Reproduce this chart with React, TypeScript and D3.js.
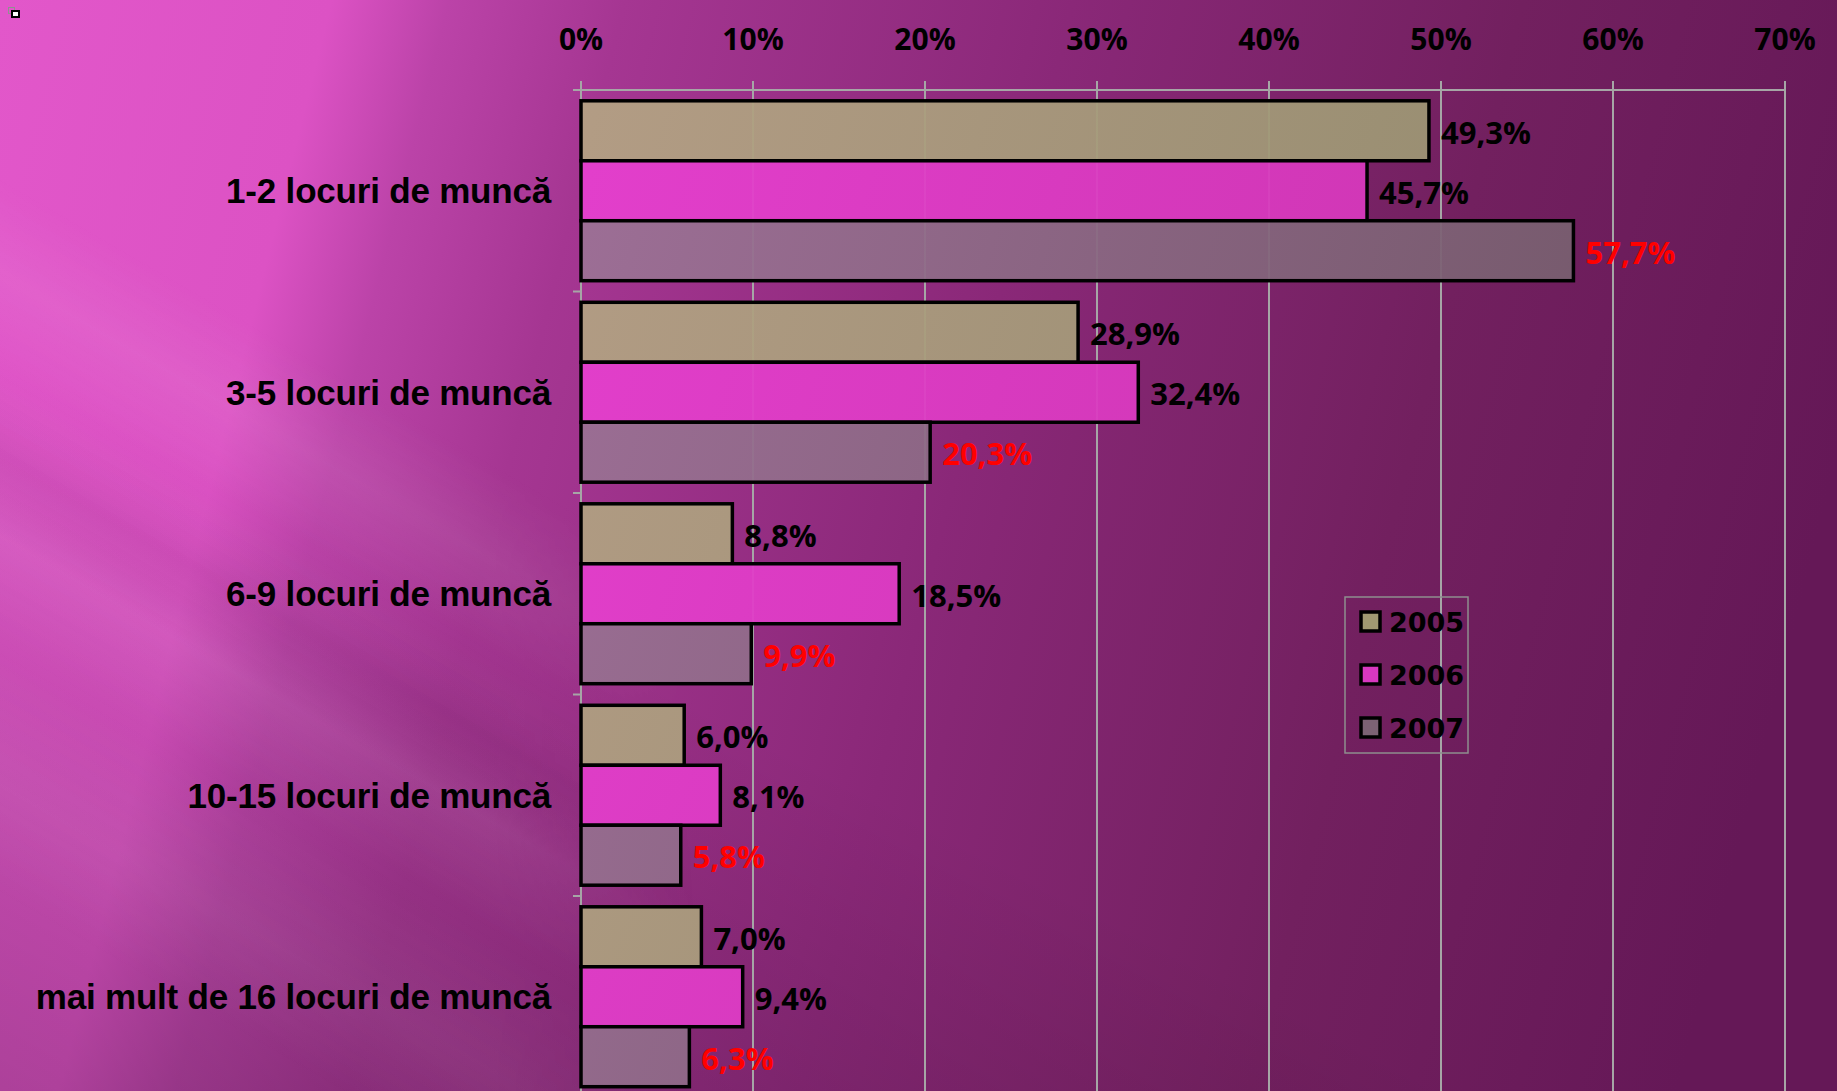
import React, { useEffect, useRef } from 'react';
import * as d3 from 'd3';

const categories = [
  '1-2 locuri de muncă',
  '3-5 locuri de muncă',
  '6-9 locuri de muncă',
  '10-15 locuri de muncă',
  'mai mult de 16 locuri de muncă',
];
const years = ['2005', '2006', '2007'];
const values2005 = [49.3, 28.9, 8.8, 6.0, 7.0];
const values2006 = [45.7, 32.4, 18.5, 8.1, 9.4];
const values2007 = [57.7, 20.3, 9.9, 5.8, 6.3];
const xTicks = [0, 10, 20, 30, 40, 50, 60, 70];

const W = 1837;
const H = 1091;

const App = () => {
  const svgRef = useRef<SVGSVGElement>(null);

  useEffect(() => {
    document.body.style.margin = '0';
    const svg = d3.select(svgRef.current);
    svg.selectAll('*').remove();

    const series = [values2005, values2006, values2007];
    const left = 581;
    const right = 1785;
    const top = 90;
    const bandH = 201.5;

    const x = d3.scaleLinear().domain([0, 70]).range([left, right]);
    const y = d3.scaleBand<string>()
      .domain(categories)
      .range([top, top + bandH * categories.length])
      .padding(0);
    const ys = d3.scaleBand<string>()
      .domain(years)
      .range([0, y.bandwidth()])
      .paddingInner(0)
      .paddingOuter(0.18);

    const defs = svg.append('defs');

    const addGrad = (id: string, x1: number, y1: number, x2: number, y2: number,
      stops: [number, string, number][]) => {
      const g = defs.append('linearGradient')
        .attr('id', id)
        .attr('gradientUnits', 'userSpaceOnUse')
        .attr('x1', x1).attr('y1', y1)
        .attr('x2', x2).attr('y2', y2);
      stops.forEach(([o, c, a]) => g.append('stop')
        .attr('offset', o).attr('stop-color', c).attr('stop-opacity', a));
    };

    // fundal
    addGrad('bg', 0, 0, 1837, 460, [
      [0, '#e257ca', 1],
      [0.17, '#dc52c4', 1],
      [0.23, '#bb43a8', 1],
      [0.32, '#a53692', 1],
      [0.55, '#8a2878', 1],
      [0.78, '#72205f', 1],
      [1, '#651857', 1],
    ]);
    addGrad('shade', 300, 500, 0, 1091, [
      [0, '#000000', 0],
      [1, '#000000', 0.22],
    ]);
    addGrad('streak', 600, 0, 0, 1034, [
      [0, '#ffffff', 0],
      [0.38, '#ffffff', 0],
      [0.45, '#ffffff', 0.07],
      [0.52, '#ffffff', 0],
      [0.58, '#000000', 0.04],
      [0.64, '#ffffff', 0.07],
      [0.72, '#ffffff', 0],
      [0.82, '#ffffff', 0.05],
      [0.9, '#ffffff', 0],
      [1, '#ffffff', 0],
    ]);
    addGrad('fadeR', 0, 0, 700, 0, [
      [0, '#ffffff', 1],
      [0.7, '#ffffff', 1],
      [1, '#ffffff', 0],
    ]);
    defs.append('mask').attr('id', 'leftMask')
      .append('rect').attr('width', W).attr('height', H).attr('fill', 'url(#fadeR)');

    addGrad('g2005', left, 0, 1600, 300, [[0, '#b4a384', 1], [1, '#979370', 1]]);
    addGrad('g2006', left, 0, 1600, 300, [[0, '#e740d0', 1], [1, '#d236b6', 1]]);
    addGrad('g2007', left, 0, 1600, 300, [[0, '#9e7398', 1], [1, '#775e6e', 1]]);
    const fills = ['url(#g2005)', 'url(#g2006)', 'url(#g2007)'];
    const legendFills = ['#a09a72', '#d838c0', '#7c6274'];

    svg.append('rect').attr('width', W).attr('height', H).attr('fill', 'url(#bg)');
    svg.append('rect').attr('width', W).attr('height', H).attr('fill', 'url(#shade)');
    svg.append('rect').attr('width', W).attr('height', H).attr('fill', 'url(#streak)')
      .attr('mask', 'url(#leftMask)');

    // mica pictograma
    svg.append('rect').attr('x', 8.5).attr('y', 7.5).attr('width', 6).attr('height', 6)
      .attr('fill', 'none').attr('stroke', '#909090').attr('stroke-width', 1);
    svg.append('rect').attr('x', 12).attr('y', 11).attr('width', 7).attr('height', 6)
      .attr('fill', '#ffffff').attr('stroke', '#000000').attr('stroke-width', 2);

    const gridColor = '#a6a6a6';

    // grila
    svg.append('g')
      .selectAll('line')
      .data(xTicks)
      .enter().append('line')
      .attr('x1', d => x(d)).attr('x2', d => x(d))
      .attr('y1', top - 9).attr('y2', H)
      .attr('stroke', gridColor)
      .attr('stroke-width', 2);

    svg.append('line')
      .attr('x1', left - 8).attr('x2', right)
      .attr('y1', top).attr('y2', top)
      .attr('stroke', gridColor).attr('stroke-width', 2);

    svg.append('g')
      .selectAll('line')
      .data(categories.slice(1))
      .enter().append('line')
      .attr('x1', left - 8).attr('x2', left)
      .attr('y1', d => y(d)!).attr('y2', d => y(d)!)
      .attr('stroke', gridColor).attr('stroke-width', 2);

    // etichete axa
    svg.append('g')
      .selectAll('text')
      .data(xTicks)
      .enter().append('text')
      .attr('x', d => x(d))
      .attr('y', 38)
      .attr('text-anchor', 'middle')
      .attr('dominant-baseline', 'central')
      .style('font-family', '"Open Sans", sans-serif')
      .style('font-weight', 'bold')
      .style('font-size', '30px')
      .style('fill', '#000')
      .text(d => `${d}%`);

    svg.append('g')
      .selectAll('text')
      .data(categories)
      .enter().append('text')
      .attr('x', 551)
      .attr('y', d => y(d)! + y.bandwidth() / 2)
      .attr('text-anchor', 'end')
      .attr('dominant-baseline', 'central')
      .style('font-family', '"Liberation Sans", Arial, sans-serif')
      .style('font-weight', 'bold')
      .style('font-size', '35px')
      .style('letter-spacing', '-0.2px')
      .style('fill', '#000')
      .text(d => d);

    // bare
    series.forEach((vals, si) => {
      const g = svg.append('g');
      g.selectAll('rect')
        .data(vals)
        .enter().append('rect')
        .attr('x', x(0))
        .attr('y', (d, i) => y(categories[i])! + ys(years[si])!)
        .attr('width', d => x(d) - x(0))
        .attr('height', ys.bandwidth())
        .attr('fill', fills[si])
        .attr('fill-opacity', 0.94)
        .attr('stroke', '#000')
        .attr('stroke-width', 3.5);

      g.selectAll('text')
        .data(vals)
        .enter().append('text')
        .attr('x', d => x(d) + 12)
        .attr('y', (d, i) => y(categories[i])! + ys(years[si])! + ys.bandwidth() / 2 + 1)
        .attr('dominant-baseline', 'central')
        .style('font-family', '"Open Sans", sans-serif')
        .style('font-weight', 'bold')
        .style('font-size', '31px')
        .style('fill', si === 2 ? '#ff0000' : '#000')
        .text(d => `${d.toFixed(1).replace('.', ',')}%`);
    });

    // legenda
    const lg = svg.append('g');
    lg.append('rect')
      .attr('x', 1345).attr('y', 597)
      .attr('width', 123).attr('height', 156)
      .attr('fill', 'none')
      .attr('stroke', '#8e8e8e')
      .attr('stroke-width', 1.5);
    const ly = d3.scalePoint<string>().domain(years).range([622, 728]);
    years.forEach((yr, i) => {
      lg.append('rect')
        .attr('x', 1361).attr('y', ly(yr)! - 10)
        .attr('width', 19).attr('height', 19)
        .attr('fill', legendFills[i])
        .attr('stroke', '#000')
        .attr('stroke-width', 3.5);
      lg.append('text')
        .attr('x', 1389).attr('y', ly(yr)!)
        .attr('dominant-baseline', 'central')
        .style('font-family', '"DejaVu Sans", sans-serif')
        .style('font-weight', 'bold')
        .style('font-size', '27px')
        .style('fill', '#000')
        .text(yr);
    });
  }, []);

  return (
    <svg
      ref={svgRef}
      width={W}
      height={H}
      style={{ position: 'absolute', left: 0, top: 0, display: 'block' }}
    />
  );
};

export default App;
